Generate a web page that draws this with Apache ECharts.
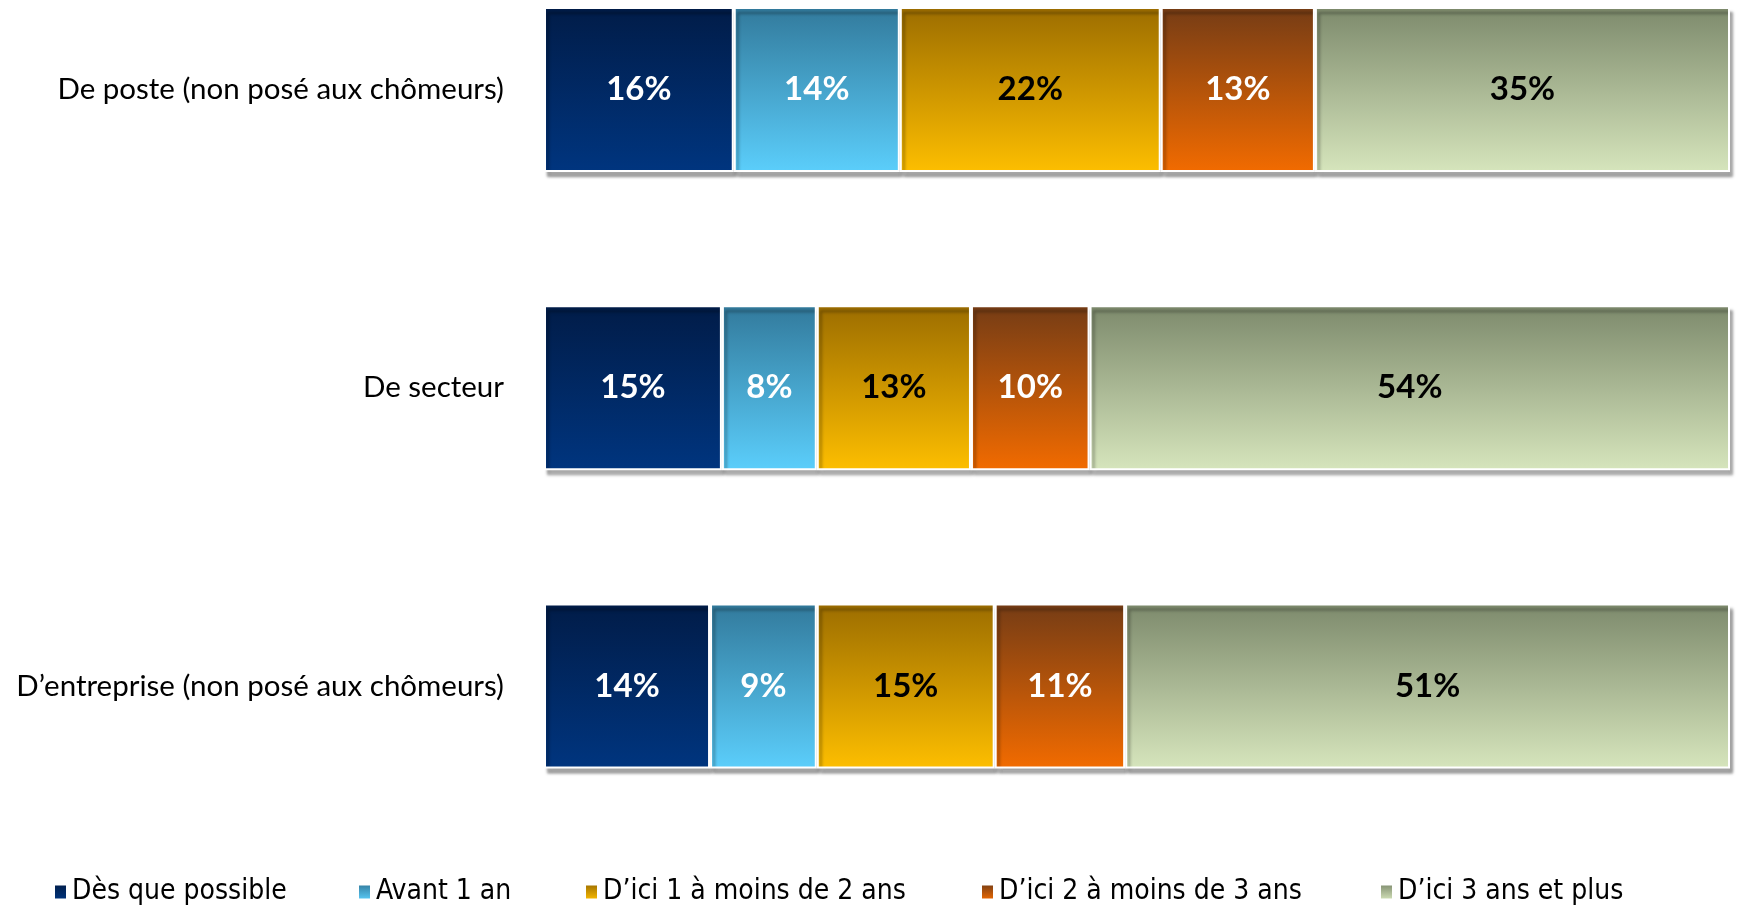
<!DOCTYPE html>
<html>
<head>
<meta charset="utf-8">
<script src="https://cdn.jsdelivr.net/npm/echarts@6/dist/echarts.min.js"></script>
<style>
  html, body { margin: 0; padding: 0; background: #fff; }
  #chart { width: 1741px; height: 907px; }
</style>
</head>
<body>
<div id="chart"></div>
<script>
// catégories (de haut en bas)
const categories = ['De poste (non posé aux chômeurs)', 'De secteur', 'D\u2019entreprise (non posé aux chômeurs)']
const seriesNames = ['Dès que possible', 'Avant 1 an', 'D\u2019ici 1 à moins de 2 ans', 'D\u2019ici 2 à moins de 3 ans', 'D\u2019ici 3 ans et plus']
const desQuePossible = [16, 15, 14]
const avant1an = [14, 8, 9]
const dici1a2 = [22, 13, 15]
const dici2a3 = [13, 10, 11]
const dici3plus = [35, 54, 51]

const values = [desQuePossible, avant1an, dici1a2, dici2a3, dici3plus]
const gradients = [
  ['#011c48', '#00357f'],
  ['#327a9c', '#5bcefb'],
  ['#9c6d00', '#fdbe00'],
  ['#753c15', '#f26b00'],
  ['#7d8a6c', '#d6e5bc']
]
const labelColors = ['#fff', '#fff', '#000', '#fff', '#000']
const legendLeft = [53, 357, 584, 980, 1379]

const chart = echarts.init(document.getElementById('chart'))

const series = values.map((data, i) => ({
  name: seriesNames[i],
  type: 'bar',
  stack: 'total',
  barWidth: 165,
  data: data,
  itemStyle: {
    color: new echarts.graphic.LinearGradient(0, 0, 0, 1, [
      { offset: 0, color: gradients[i][0] },
      { offset: 1, color: gradients[i][1] }
    ]),
    borderColor: '#fff',
    borderWidth: 2,
    shadowColor: 'rgba(0,0,0,0.35)',
    shadowOffsetX: 3,
    shadowOffsetY: 5,
    shadowBlur: 3
  },
  label: {
    show: true,
    position: 'inside',
    formatter: '{c}%',
    color: labelColors[i],
    fontFamily: 'Lato',
    fontWeight: 'bold',
    fontSize: 33
  },
  emphasis: { disabled: true }
}))

const legends = seriesNames.map((name, i) => ({
  data: [name],
  left: legendLeft[i],
  top: 878,
  padding: 0,
  icon: 'rect',
  itemWidth: 13,
  itemHeight: 15,
  textStyle: {
    fontFamily: 'DejaVu Sans Condensed',
    fontSize: 28,
    color: '#000'
  }
}))

chart.setOption({
  animation: false,
  grid: { left: 544, right: 11, top: 89.5, bottom: 221 },
  legend: legends,
  xAxis: {
    type: 'value',
    min: 0,
    max: 100,
    show: false
  },
  yAxis: {
    type: 'category',
    data: categories,
    inverse: true,
    boundaryGap: false,
    axisLine: { show: false },
    axisTick: { show: false },
    axisLabel: {
      margin: 40,
      color: '#000',
      fontFamily: 'Lato',
      fontSize: 29.5
    }
  },
  series: series
})
</script>
</body>
</html>
